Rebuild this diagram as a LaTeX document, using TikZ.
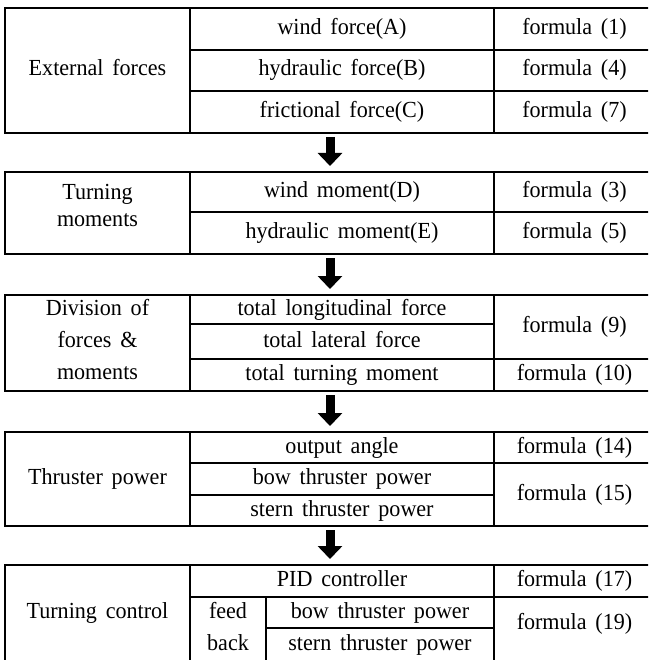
\documentclass[tikz,border=0pt]{standalone}
\usepackage{fontspec}
\setmainfont{Liberation Serif}[WordSpace=1.6, FakeStretch=0.96]
\usetikzlibrary{arrows.meta,calc}
\begin{document}
\begin{tikzpicture}[x=1pt,y=-1pt,
  frame/.style={draw, line width=2.8pt, rectangle, anchor=north west, inner sep=0pt, outer sep=0pt, minimum width=650pt},
  grid/.style={line width=1.1pt},
  cell/.style={font=\fontsize{23}{28}\selectfont, align=center, inner sep=0pt, text height=16pt, text depth=5pt},
  multi/.style={align=center, inner sep=0pt},
  flow/.style={line width=9pt, -{Triangle[width=24pt,length=13pt]}, shorten <=4pt, shorten >=6pt}]
\useasboundingbox (0,0) rectangle (648,660);
\clip (0,0) rectangle (648,660);

% frames
\node[frame, minimum height=125pt] (B1) at (5,8) {};
\node[frame, minimum height=82pt]  (B2) at (5,172) {};
\node[frame, minimum height=96pt]  (B3) at (5,295) {};
\node[frame, minimum height=94pt]  (B4) at (5,432) {};
\node[frame, minimum height=98pt]  (B5) at (5,565) {};

% box 1 grid
\draw[grid] (190,8) -- (190,133) (494,8) -- (494,133)
            (190,50) -- (655,50) (190,91) -- (655,91);
% box 2 grid
\draw[grid] (190,172) -- (190,254) (494,172) -- (494,254)
            (190,212) -- (655,212);
% box 3 grid
\draw[grid] (190,295) -- (190,391) (494,295) -- (494,391)
            (190,324) -- (494,324) (190,359) -- (655,359);
% box 4 grid
\draw[grid] (190,432) -- (190,526) (494,432) -- (494,526)
            (190,463) -- (655,463) (190,495) -- (494,495);
% box 5 grid
\draw[grid] (190,565) -- (190,663) (494,565) -- (494,663)
            (266,597) -- (266,663)
            (190,597) -- (655,597) (266,628) -- (494,628);

% box 1 texts
\node[cell] (e0) at (97.5,70.5) {External forces};
\node[cell] (e1) at (342,29) {wind force(A)};
\node[cell] (e2) at (342,70.5) {hydraulic force(B)};
\node[cell] (e3) at (342,112) {frictional force(C)};
\node[cell] (f1) at (574.5,29) {formula (1)};
\node[cell] (f4) at (574.5,70.5) {formula (4)};
\node[cell] (f7) at (574.5,112) {formula (7)};

% box 2 texts
\node[multi, font=\fontsize{23}{27}\selectfont] (m0) at (97.5,208) {\strut Turning\\\strut moments};
\node[cell] (m1) at (342,192) {wind moment(D)};
\node[cell] (m2) at (342,233) {hydraulic moment(E)};
\node[cell] (f3) at (574.5,192) {formula (3)};
\node[cell] (f5) at (574.5,233) {formula (5)};

% box 3 texts
\node[multi, font=\fontsize{23}{32}\selectfont] (d0) at (97.5,341) {\strut Division of\\\strut forces \&\\\strut moments};
\node[cell] (d1) at (342,309.5) {total longitudinal force};
\node[cell] (d2) at (342,341.5) {total lateral force};
\node[cell] (d3) at (342,375) {total turning moment};
\node[cell] (f9) at (574.5,327) {formula (9)};
\node[cell] (f10) at (574.5,375) {formula (10)};

% box 4 texts
\node[cell] (p0) at (97.5,479) {Thruster power};
\node[cell] (p1) at (342,447.5) {output angle};
\node[cell] (p2) at (342,479) {bow thruster power};
\node[cell] (p3) at (342,510.5) {stern thruster power};
\node[cell] (f14) at (574.5,447.5) {formula (14)};
\node[cell] (f15) at (574.5,495) {formula (15)};

% box 5 texts
\node[cell] (c0) at (97.5,612.5) {Turning control};
\node[cell] (c1) at (342,581) {PID controller};
\node[multi, font=\fontsize{23}{32}\selectfont] (fb) at (228,628.5) {\strut feed\\\strut back};
\node[cell] (c2) at (380,612.5) {bow thruster power};
\node[cell] (c3) at (380,644.5) {stern thruster power};
\node[cell] (f17) at (574.5,581) {formula (17)};
\node[cell] (f19) at (574.5,624) {formula (19)};

% arrows
\draw[flow] (B1.south) -- (B2.north);
\draw[flow] (B2.south) -- (B3.north);
\draw[flow] (B3.south) -- (B4.north);
\draw[flow] (B4.south) -- (B5.north);
\end{tikzpicture}
\end{document}
